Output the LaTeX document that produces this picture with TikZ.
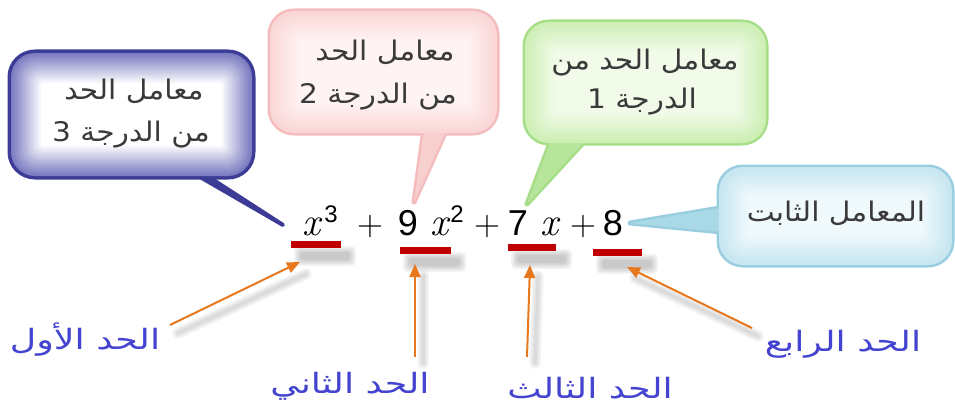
\documentclass[tikz,border=0pt]{standalone}
\usepackage{fontspec}
\usetikzlibrary{arrows.meta,calc}
\newfontfamily\arabicfont[Script=Arabic,FakeStretch=1.1]{DejaVu Sans}
\newfontfamily\labfont[Script=Arabic,FakeStretch=1.3]{DejaVu Sans}
\newfontfamily\eqfont{Liberation Sans}
\newfontfamily\lmfont{Latin Modern Roman}
\TeXXeTstate=1
\definecolor{bedge}{HTML}{3C3C96}
\definecolor{bglow}{HTML}{7C7CC2}
\definecolor{pedge}{HTML}{F4BCBC}
\definecolor{pglow}{HTML}{FAD6D6}
\definecolor{pcent}{HTML}{FFF4F4}
\definecolor{pptr}{HTML}{F8CFCF}
\definecolor{gedge}{HTML}{A6DE88}
\definecolor{gglow}{HTML}{CDEFB4}
\definecolor{gcent}{HTML}{F2FBEA}
\definecolor{gptr}{HTML}{B8E59C}
\definecolor{cedge}{HTML}{98CEE0}
\definecolor{cglow}{HTML}{C6E6F0}
\definecolor{ccent}{HTML}{F0F9FC}
\definecolor{cptr}{HTML}{A9D8E6}
\definecolor{txtgray}{HTML}{3A3A3A}
\definecolor{labblue}{HTML}{4444D0}
\definecolor{barred}{HTML}{C00000}
\definecolor{arrorange}{HTML}{E8781E}
\newcommand\balloon[6]{%
  \draw[#2, rounded corners=24pt] (#1a) rectangle (#1b);
  \draw[#2, #6, line join=round] (#1p) -- (#1t) -- (#1q) -- cycle;
  \fill[#5] (#1p) -- (#1t) -- (#1q) -- cycle;
  \foreach \i in {0,...,15}{%
    \pgfmathtruncatemacro\pc{\i*100/15}%
    \pgfmathsetmacro\rr{max(24-\i*1.5,2)}%
    \fill[#4!\pc!#3, rounded corners=\rr pt] ($(#1a)+(\i*2,\i*2)$) rectangle ($(#1b)-(\i*2,\i*2)$);
  }%
}
\newcommand\softbar[4]{%
  \foreach \k in {0,...,4}{%
    \fill[black, opacity=0.045, rounded corners=4pt] (#1-\k*1.5,#2-\k*1.5) rectangle (#3+\k*1.5,#4+\k*1.5);
  }%
}
\newcommand\softline[2]{%
  \foreach \k in {1,...,4}{%
    \draw[black, opacity=0.035, line width=\k*3pt, line cap=round] (#1) -- (#2);
  }%
}
\begin{document}
\begin{tikzpicture}[x=1pt,y=-1pt,
  ar/.style={font=\arabicfont\fontsize{27}{30}\selectfont, text=txtgray, inner sep=0pt},
  lab/.style={font=\labfont\fontsize{28}{30}\selectfont, text=labblue, inner sep=0pt},
  eqn/.style={font=\eqfont\fontsize{36}{40}\selectfont, inner sep=0pt, anchor=base},
  eqx/.style={font=\lmfont\itshape\fontsize{40}{44}\selectfont, inner sep=0pt, anchor=base},
  eqp/.style={font=\lmfont\fontsize{36}{40}\selectfont, inner sep=0pt, anchor=base},
  eqsup/.style={font=\eqfont\fontsize{24}{26}\selectfont, inner sep=0pt, anchor=base},
  bar/.style={fill=barred, minimum height=7pt, inner sep=0pt},
  arr/.style={draw=arrorange, line width=2pt, -{Triangle[length=13pt,width=11pt]}},
]
\useasboundingbox (0,0) rectangle (955,409);
\fill[white] (0,0) rectangle (955,409);

% blue balloon
\coordinate (Ba) at (11,53); \coordinate (Bb) at (252,176);
\coordinate (Bp) at (188,170); \coordinate (Bq) at (198,170); \coordinate (Bt) at (283,225);
\balloon{B}{draw=bedge, line width=7pt}{bglow}{white}{bedge}{line width=4pt}
% pink balloon
\coordinate (Pa) at (270,11); \coordinate (Pb) at (497,133);
\coordinate (Pp) at (425,122); \coordinate (Pq) at (450,122); \coordinate (Pt) at (414,202);
\balloon{P}{draw=pedge, line width=5pt}{pglow}{pcent}{pptr}{}
% green balloon
\coordinate (Ga) at (525,22); \coordinate (Gb) at (766,143);
\coordinate (Gp) at (555,130); \coordinate (Gq) at (595,130); \coordinate (Gt) at (527,204);
\balloon{G}{draw=gedge, line width=5pt}{gglow}{gcent}{gptr}{}
% cyan balloon
\coordinate (Ca) at (719,167); \coordinate (Cb) at (952,265);
\coordinate (Cp) at (732,206); \coordinate (Cq) at (732,233); \coordinate (Ct) at (630,223);
\balloon{C}{draw=cedge, line width=5pt}{cglow}{ccent}{cptr}{}

% balloon texts
\node[ar] (b1) at (134,91) {\beginR معامل الحد\endR};
\node[ar] (b2) at (131,135) {\beginR من الدرجة 3\endR};
\node[ar] (p1) at (385,52) {\beginR معامل الحد\endR};
\node[ar] (p2) at (378,97) {\beginR من الدرجة 2\endR};
\node[ar] (g1) at (645,63) {\beginR معامل الحد من\endR};
\node[ar] (g2) at (642,102) {\beginR الدرجة 1\endR};
\node[ar] (c1) at (836,213) {\beginR المعامل الثابت\endR};

% equation
\node[eqx] (x1) at (311,235) {x};
\node[eqsup] (s3) at (331,222) {3};
\node[eqp] (pl1) at (370,235) {+};
\node[eqn] (n9) at (408,235) {9};
\node[eqx] (x2) at (439,235) {x};
\node[eqsup] (s2) at (457,222) {2};
\node[eqp] (pl2) at (487,235) {+};
\node[eqn] (n7) at (518,235) {7};
\node[eqx] (x3) at (549,235) {x};
\node[eqp] (pl3) at (583,235) {+};
\node[eqn] (n8) at (613,235) {8};

% bar shadows
\softbar{300}{252}{350}{260}
\softbar{409}{258}{460}{266}
\softbar{517}{255}{566}{263}
\softbar{602}{260}{652}{268}
% bars
\node[bar, minimum width=50pt] (r1) at (316,244.5) {};
\node[bar, minimum width=51pt] (r2) at (425,250) {};
\node[bar, minimum width=48pt] (r3) at (532,247) {};
\node[bar, minimum width=49pt] (r4) at (617.5,252.5) {};

% labels
\node[lab] (l1) at (85,340) {\beginR الحد الأول\endR};
\node[lab] (l2) at (350,386) {\beginR الحد الثاني\endR};
\node[lab] (l3) at (590,388) {\beginR الحد الثالث\endR};
\node[lab] (l4) at (843,344) {\beginR الحد الرابع\endR};

% arrows
\coordinate (a1) at (170,325); \coordinate (t1) at (300,262);
\coordinate (a2) at (415,357); \coordinate (t2) at (415,264);
\coordinate (a3) at (527,357); \coordinate (t3) at (530,265);
\coordinate (a4) at (752,328); \coordinate (t4) at (627,267);
\coordinate (h1a) at (178,333); \coordinate (h1b) at (306,274);
\coordinate (h2a) at (423,363); \coordinate (h2b) at (423,276);
\coordinate (h3a) at (535,363); \coordinate (h3b) at (538,276);
\coordinate (h4a) at (758,336); \coordinate (h4b) at (635,278);
\softline{h1a}{h1b}
\softline{h2a}{h2b}
\softline{h3a}{h3b}
\softline{h4a}{h4b}
\draw[arr] (a1) -- (t1);
\draw[arr] (a2) -- (t2);
\draw[arr] (a3) -- (t3);
\draw[arr] (a4) -- (t4);
\end{tikzpicture}
\end{document}
